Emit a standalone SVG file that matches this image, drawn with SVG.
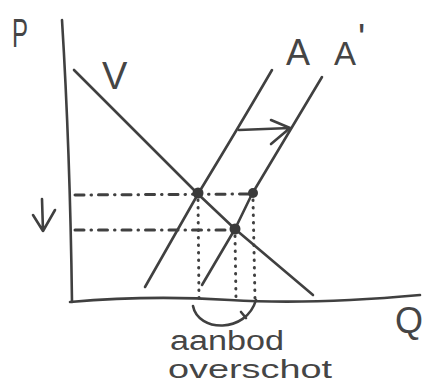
<svg xmlns="http://www.w3.org/2000/svg" width="424" height="385" viewBox="0 0 424 385">
<style>
.ink{fill:none;stroke:#404040;stroke-width:2.6;stroke-linecap:round;stroke-linejoin:round}
.dashdot{fill:none;stroke:#404040;stroke-width:3;stroke-linecap:round;stroke-dasharray:9 7 0.5 7}
.dot{fill:none;stroke:#404040;stroke-width:3;stroke-linecap:round;stroke-dasharray:0.5 7}
.pt{fill:#3a3a3a}
.lbl{font-family:"Liberation Sans","DejaVu Sans",sans-serif;fill:#454545}
</style>
<rect width="424" height="385" fill="#ffffff"/>
<g id="axes">
<path class="ink" d="M62,20 Q70,150 72,302"/>
<path class="ink" d="M70,302 Q150,295 230,300 T420,295"/>
<text class="lbl" x="12" y="47" font-size="40" textLength="16" lengthAdjust="spacingAndGlyphs">P</text>
<text class="lbl" x="395" y="333" font-size="36">Q</text>
</g>
<g id="connectors">
<path class="dashdot" d="M75,195 L252,194"/>
<path class="dashdot" d="M75,230 L235,230"/>
<path class="dot" d="M198,200 L199,302"/>
<path class="dot" d="M235,236 L236,300" stroke-dasharray="4 7"/>
<path class="dot" d="M253,200 L255,300" stroke-dasharray="2 5"/>
<path class="ink" d="M239,130 L290,128 M271,120 L290,128 L271,144"/>
<path class="ink" d="M42,199 L43,231 M33,215 L43,231 L55,210"/>
<path class="ink" d="M193,306 C198,332 246,334 256,300 M241,312 L246,318"/>
</g>
<g id="demand-V">
<path class="ink" d="M74,70 L198,194 L235,229 L313,295"/>
<text class="lbl" x="102" y="89" font-size="38">V</text>
</g>
<g id="supply-A">
<path class="ink" d="M145,287 L198,194 Q240,125 272,70"/>
<text class="lbl" x="286" y="65" font-size="36">A</text>
</g>
<g id="supply-A-prime">
<path class="ink" d="M202,285 L235,229 L252,194 L322,77"/>
<text class="lbl" x="334" y="65" font-size="33">A<tspan dx="2" dy="-14" font-size="38">'</tspan></text>
</g>
<g id="equilibria">
<circle class="pt" cx="198" cy="193" r="5.5"/>
<circle class="pt" cx="253" cy="193" r="5"/>
<circle class="pt" cx="235" cy="229" r="5.5"/>
</g>
<g id="label-surplus">
<text class="lbl" x="170" y="350" font-size="27" textLength="114" lengthAdjust="spacingAndGlyphs">aanbod</text>
<text class="lbl" x="168" y="378" font-size="26" textLength="164" lengthAdjust="spacingAndGlyphs">overschot</text>
</g>
</svg>
